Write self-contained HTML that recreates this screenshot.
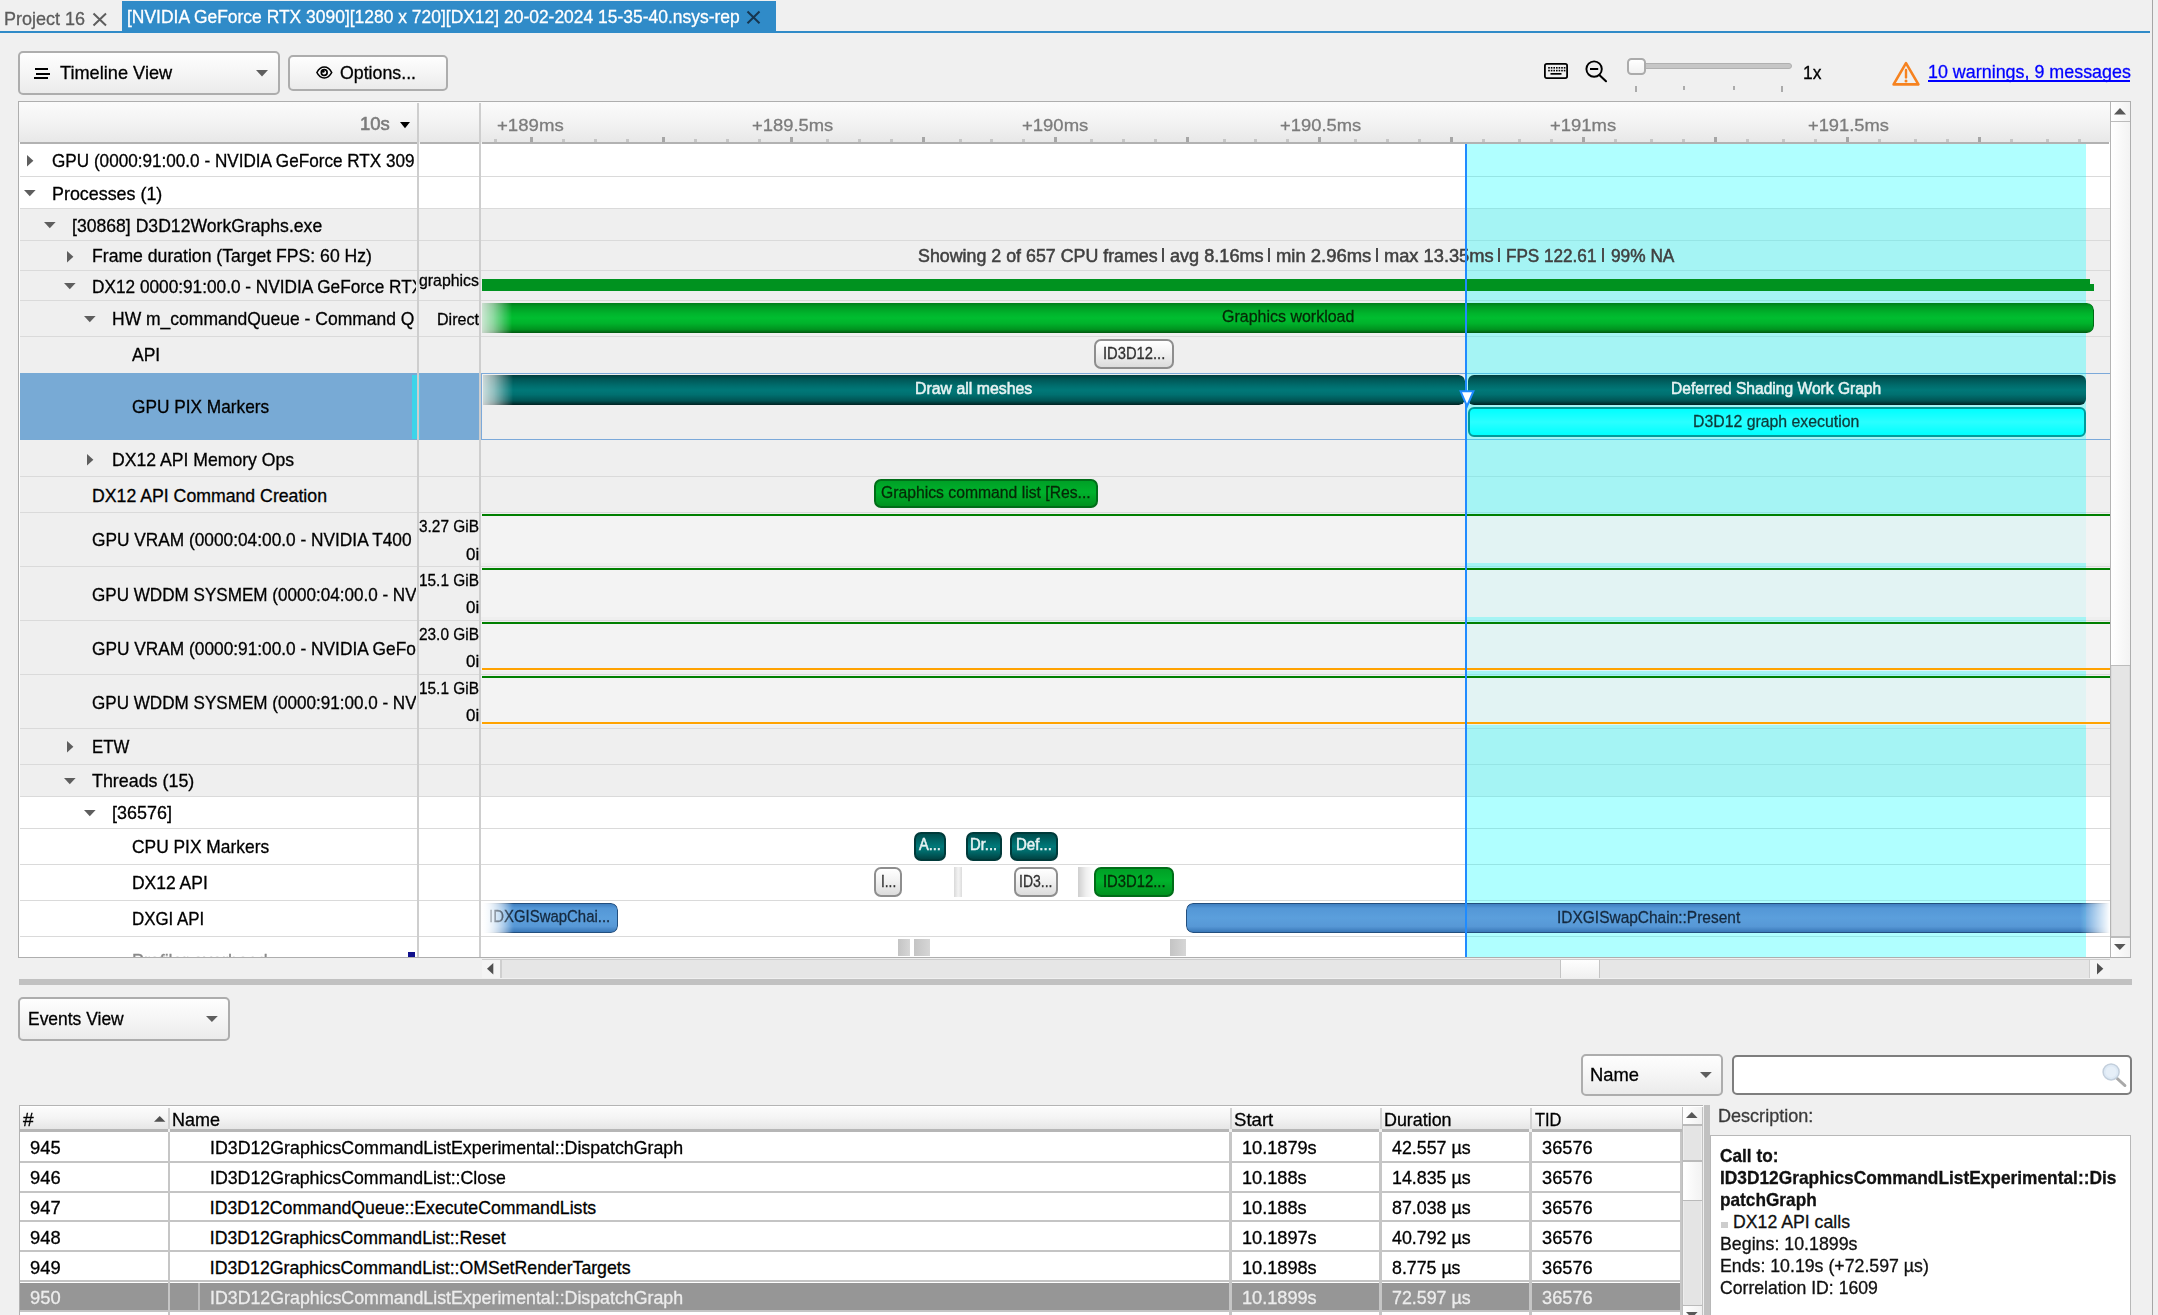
<!DOCTYPE html>
<html><head><meta charset="utf-8"><title>Nsight Systems</title><style>
html,body{margin:0;padding:0;width:2158px;height:1315px;overflow:hidden;background:#f0f0f0;font-family:"Liberation Sans",sans-serif;}
.a{position:absolute;box-sizing:border-box}
.t{position:absolute;line-height:0;white-space:pre;transform-origin:0 50%;-webkit-text-stroke:0.3px currentColor}
.clip{position:absolute;overflow:hidden}
svg{position:absolute;overflow:visible}
</style></head><body>
<div class="a" style="left:2152.00px;top:0.00px;width:1.00px;height:1315.00px;background:#a6a6a6;"></div>
<div class="a" style="left:122.00px;top:1.00px;width:654.00px;height:31.00px;background:#308bc8;"></div>
<div class="a" style="left:0.00px;top:31.00px;width:2150.00px;height:2.00px;background:#308bc8;"></div>
<div class="t" style="left:4.40px;top:19.30px;font-size:17.90px;color:#5c5c5c;transform:scaleX(1.0067);">Project 16</div>
<svg style="left:93px;top:13px" width="14" height="13"><path d="M0.5 0.5 L13 12.5 M13 0.5 L0.5 12.5" stroke="#5e5e5e" stroke-width="2" fill="none"/></svg>
<div class="t" style="left:126.70px;top:17.29px;font-size:18.20px;color:#fff;transform:scaleX(0.9594);">[NVIDIA GeForce RTX 3090][1280 x 720][DX12] 20-02-2024 15-35-40.nsys-rep</div>
<svg style="left:747.4px;top:11px" width="13" height="13"><path d="M0.5 0.5 L12.5 12.3 M12.5 0.5 L0.5 12.3" stroke="#173650" stroke-width="2" fill="none"/></svg>
<div class="a" style="left:18.30px;top:51.30px;width:261.30px;height:43.30px;background:none;border:2px solid #adadad;border-radius:5px;background:linear-gradient(#fefefe,#f6f6f6 45%,#ebebeb);"></div>
<div class="a" style="left:34.60px;top:68.00px;width:13.70px;height:2.00px;background:#000;"></div>
<div class="a" style="left:36.10px;top:72.80px;width:13.70px;height:2.00px;background:#000;"></div>
<div class="a" style="left:34.20px;top:77.20px;width:13.70px;height:2.00px;background:#000;"></div>
<div class="t" style="left:59.90px;top:73.46px;font-size:18.60px;color:#000;transform:scaleX(0.9780);">Timeline View</div>
<svg style="left:256px;top:69.7px" width="12" height="7"><path d="M0 0 L12 0 L6 6.4 Z" fill="#5e5e5e"/></svg>
<div class="a" style="left:288.20px;top:55.20px;width:159.70px;height:35.80px;background:none;border:2px solid #adadad;border-radius:5px;background:linear-gradient(#fefefe,#f6f6f6 45%,#ebebeb);"></div>
<svg style="left:315.7px;top:66px" width="17" height="13" viewBox="0 0 17 13"><path d="M0.9 6.5 C3 2.4 6 1 8.3 1 C10.6 1 13.6 2.4 15.7 6.5 C13.6 10.6 10.6 12 8.3 12 C6 12 3 10.6 0.9 6.5 Z" fill="none" stroke="#000" stroke-width="1.6"/><circle cx="8.2" cy="6.5" r="2.9" fill="none" stroke="#000" stroke-width="1.7"/><circle cx="7.1" cy="5.2" r="1.5" fill="#000"/></svg>
<div class="t" style="left:340.20px;top:73.10px;font-size:17.90px;color:#000;transform:scaleX(0.9925);">Options...</div>
<svg style="left:1544px;top:63px" width="24" height="16" viewBox="0 0 24 16"><rect x="0.9" y="0.9" width="22.2" height="14.2" rx="1.8" fill="none" stroke="#000" stroke-width="1.8"/><rect x="4.2" y="4.0" width="1.6" height="1.6" fill="#000"/><rect x="6.8" y="4.0" width="1.6" height="1.6" fill="#000"/><rect x="9.4" y="4.0" width="1.6" height="1.6" fill="#000"/><rect x="12.0" y="4.0" width="1.6" height="1.6" fill="#000"/><rect x="14.6" y="4.0" width="1.6" height="1.6" fill="#000"/><rect x="17.2" y="4.0" width="1.6" height="1.6" fill="#000"/><rect x="19.8" y="4.0" width="1.6" height="1.6" fill="#000"/><rect x="4.2" y="6.8" width="1.6" height="1.6" fill="#000"/><rect x="6.8" y="6.8" width="1.6" height="1.6" fill="#000"/><rect x="9.4" y="6.8" width="1.6" height="1.6" fill="#000"/><rect x="12.0" y="6.8" width="1.6" height="1.6" fill="#000"/><rect x="14.6" y="6.8" width="1.6" height="1.6" fill="#000"/><rect x="17.2" y="6.8" width="1.6" height="1.6" fill="#000"/><rect x="19.8" y="6.8" width="1.6" height="1.6" fill="#000"/><rect x="6.5" y="10" width="11" height="1.7" fill="#000"/></svg>
<svg style="left:1584px;top:59px" width="24" height="24" viewBox="0 0 24 24"><circle cx="10.1" cy="10.1" r="7.7" fill="none" stroke="#000" stroke-width="1.9"/><path d="M6 10 H14.2" stroke="#000" stroke-width="2"/><path d="M15.6 16.2 L22 22.2" stroke="#000" stroke-width="2.1" stroke-linecap="round"/></svg>
<div class="a" style="left:1640.00px;top:63.20px;width:151.80px;height:5.60px;background:#c6c6c6;border:1px solid #b0b0b0;border-radius:3px;"></div>
<div class="a" style="left:1627.40px;top:57.60px;width:18.60px;height:17.20px;background:none;border:2px solid #ababab;border-radius:4.5px;background:linear-gradient(#ffffff,#f1f1f1);"></div>
<div class="a" style="left:1634.70px;top:86.20px;width:2.00px;height:6.00px;background:#ababab;"></div>
<div class="a" style="left:1683.20px;top:86.20px;width:2.00px;height:3.60px;background:#ababab;"></div>
<div class="a" style="left:1733.20px;top:86.20px;width:2.00px;height:3.60px;background:#ababab;"></div>
<div class="a" style="left:1781.10px;top:86.20px;width:2.00px;height:6.00px;background:#ababab;"></div>
<div class="t" style="left:1803.30px;top:73.46px;font-size:18.60px;color:#000;transform:scaleX(0.9368);">1x</div>
<svg style="left:1890px;top:59px" width="32" height="29" viewBox="0 0 32 29"><path d="M16 4.2 L28.4 25.4 H3.6 Z" fill="none" stroke="#f6821f" stroke-width="2.6" stroke-linejoin="round"/><path d="M16 11 V18.4" stroke="#f6821f" stroke-width="2.4" stroke-linecap="round"/><circle cx="16" cy="22" r="1.5" fill="#f6821f"/></svg>
<div class="t" style="left:1927.80px;top:72.06px;font-size:18.60px;color:#0000ff;transform:scaleX(0.9623);">10 warnings, 9 messages</div>
<div class="a" style="left:1928.30px;top:80.30px;width:201.70px;height:1.50px;background:#0000ff;"></div>
<div class="a" style="left:18.00px;top:101.00px;width:2113.00px;height:856.50px;background:#fff;border:1px solid #aeaeae;"></div>
<div class="a" style="left:19.00px;top:102.00px;width:2091.00px;height:40.00px;background:linear-gradient(#fbfbfb,#f3f3f3 50%,#e8e8e8);"></div>
<div class="a" style="left:20.00px;top:142.00px;width:2089.00px;height:2.20px;background:#b2b2b2;"></div>
<div class="a" style="left:19.50px;top:209.00px;width:2090.50px;height:31.00px;background:#efefef;"></div>
<div class="a" style="left:19.50px;top:241.00px;width:2090.50px;height:29.00px;background:#efefef;"></div>
<div class="a" style="left:19.50px;top:271.00px;width:2090.50px;height:29.00px;background:#efefef;"></div>
<div class="a" style="left:19.50px;top:301.00px;width:2090.50px;height:35.00px;background:#efefef;"></div>
<div class="a" style="left:19.50px;top:337.00px;width:2090.50px;height:36.00px;background:#efefef;"></div>
<div class="a" style="left:19.50px;top:373.00px;width:461.50px;height:67.00px;background:#78aad5;"></div>
<div class="a" style="left:481.00px;top:373.00px;width:1629.00px;height:67.00px;background:#efefef;border:1px solid #7ba9da;border-right:none;"></div>
<div class="a" style="left:19.50px;top:440.00px;width:2090.50px;height:36.00px;background:#efefef;"></div>
<div class="a" style="left:19.50px;top:477.00px;width:2090.50px;height:35.00px;background:#efefef;"></div>
<div class="a" style="left:19.50px;top:513.00px;width:2090.50px;height:53.00px;background:#efefef;"></div>
<div class="a" style="left:19.50px;top:567.00px;width:2090.50px;height:53.00px;background:#efefef;"></div>
<div class="a" style="left:19.50px;top:621.00px;width:2090.50px;height:53.00px;background:#efefef;"></div>
<div class="a" style="left:19.50px;top:675.00px;width:2090.50px;height:53.00px;background:#efefef;"></div>
<div class="a" style="left:19.50px;top:729.00px;width:2090.50px;height:35.00px;background:#efefef;"></div>
<div class="a" style="left:19.50px;top:765.00px;width:2090.50px;height:31.00px;background:#efefef;"></div>
<div class="a" style="left:19.50px;top:176.00px;width:2090.50px;height:1.00px;background:#dadada;"></div>
<div class="a" style="left:19.50px;top:208.00px;width:2090.50px;height:1.00px;background:#dadada;"></div>
<div class="a" style="left:19.50px;top:240.00px;width:2090.50px;height:1.00px;background:#dadada;"></div>
<div class="a" style="left:19.50px;top:270.00px;width:2090.50px;height:1.00px;background:#dadada;"></div>
<div class="a" style="left:19.50px;top:300.00px;width:2090.50px;height:1.00px;background:#dadada;"></div>
<div class="a" style="left:19.50px;top:336.00px;width:2090.50px;height:1.00px;background:#dadada;"></div>
<div class="a" style="left:19.50px;top:476.00px;width:2090.50px;height:1.00px;background:#dadada;"></div>
<div class="a" style="left:19.50px;top:512.00px;width:2090.50px;height:1.00px;background:#dadada;"></div>
<div class="a" style="left:19.50px;top:566.00px;width:2090.50px;height:1.00px;background:#dadada;"></div>
<div class="a" style="left:19.50px;top:620.00px;width:2090.50px;height:1.00px;background:#dadada;"></div>
<div class="a" style="left:19.50px;top:674.00px;width:2090.50px;height:1.00px;background:#dadada;"></div>
<div class="a" style="left:19.50px;top:728.00px;width:2090.50px;height:1.00px;background:#dadada;"></div>
<div class="a" style="left:19.50px;top:764.00px;width:2090.50px;height:1.00px;background:#dadada;"></div>
<div class="a" style="left:19.50px;top:796.00px;width:2090.50px;height:1.00px;background:#dadada;"></div>
<div class="a" style="left:19.50px;top:828.00px;width:2090.50px;height:1.00px;background:#dadada;"></div>
<div class="a" style="left:19.50px;top:864.00px;width:2090.50px;height:1.00px;background:#dadada;"></div>
<div class="a" style="left:19.50px;top:900.00px;width:2090.50px;height:1.00px;background:#dadada;"></div>
<div class="a" style="left:19.50px;top:936.00px;width:2090.50px;height:1.00px;background:#dadada;"></div>
<div class="a" style="left:481.00px;top:514.00px;width:1629.00px;height:49.00px;background:#f3f3f3;"></div>
<div class="a" style="left:481.00px;top:568.00px;width:1629.00px;height:49.00px;background:#f3f3f3;"></div>
<div class="a" style="left:481.00px;top:622.00px;width:1629.00px;height:49.00px;background:#f3f3f3;"></div>
<div class="a" style="left:481.00px;top:676.00px;width:1629.00px;height:49.00px;background:#f3f3f3;"></div>
<div class="a" style="left:1467.00px;top:144.00px;width:619.00px;height:813.00px;background:rgba(0,255,255,0.31);"></div>
<div class="a" style="left:1467.00px;top:516.00px;width:619.00px;height:46.50px;background:#e2f3f3;"></div>
<div class="a" style="left:481.50px;top:514.00px;width:1628.50px;height:2.00px;background:#007f00;"></div>
<div class="a" style="left:1467.00px;top:570.00px;width:619.00px;height:46.50px;background:#e2f3f3;"></div>
<div class="a" style="left:481.50px;top:568.00px;width:1628.50px;height:2.00px;background:#007f00;"></div>
<div class="a" style="left:1467.00px;top:624.00px;width:619.00px;height:46.50px;background:#e2f3f3;"></div>
<div class="a" style="left:481.50px;top:622.00px;width:1628.50px;height:2.00px;background:#007f00;"></div>
<div class="a" style="left:1467.00px;top:678.00px;width:619.00px;height:46.50px;background:#e2f3f3;"></div>
<div class="a" style="left:481.50px;top:676.00px;width:1628.50px;height:2.00px;background:#007f00;"></div>
<div class="a" style="left:481.50px;top:668.00px;width:1628.50px;height:2.00px;background:#ffa200;"></div>
<div class="a" style="left:481.50px;top:722.00px;width:1628.50px;height:2.00px;background:#ffa200;"></div>
<div class="a" style="left:417.00px;top:103.00px;width:2.00px;height:854.00px;background:#cecece;"></div>
<div class="a" style="left:479.00px;top:103.00px;width:2.00px;height:854.00px;background:#cecece;"></div>
<div class="a" style="left:412.00px;top:375.00px;width:5.00px;height:63.50px;background:#3dd4e9;"></div>
<div class="a" style="left:419.00px;top:375.00px;width:1.00px;height:63.50px;background:#59c7e6;"></div>
<div class="a" style="left:2110.00px;top:102.00px;width:1.00px;height:855.00px;background:#b4b4b4;"></div>
<div class="a" style="left:2111.00px;top:102.00px;width:19.00px;height:855.00px;background:#e5e5e5;border-left:1px solid #dcdcdc;border-right:1px solid #dcdcdc;"></div>
<div class="a" style="left:2111.00px;top:102.00px;width:19.00px;height:19.00px;background:linear-gradient(to right,#ffffff,#f2f2f2);"></div>
<div class="a" style="left:2111.00px;top:120.50px;width:19.00px;height:1.50px;background:#bcbcbc;"></div>
<div class="a" style="left:2111.00px;top:122.00px;width:19.00px;height:542.50px;background:linear-gradient(to right,#ffffff,#f3f3f3);"></div>
<div class="a" style="left:2111.00px;top:664.50px;width:19.00px;height:1.50px;background:#bcbcbc;"></div>
<div class="a" style="left:2111.00px;top:937.50px;width:19.00px;height:19.50px;background:linear-gradient(to right,#ffffff,#f2f2f2);"></div>
<svg style="left:2114px;top:108px" width="12" height="7"><path d="M0 6.4 L6 0 L12 6.4 Z" fill="#585858"/></svg>
<svg style="left:2114.1px;top:944px" width="12" height="7"><path d="M0 0 L11.6 0 L5.8 6 Z" fill="#585858"/></svg>
<div class="a" style="left:2111.00px;top:936.00px;width:19.00px;height:1.80px;background:#bcbcbc;"></div>
<div class="a" style="left:494.00px;top:139.00px;width:3.00px;height:3.00px;background:#c6c6c6;"></div>
<div class="a" style="left:562.00px;top:139.00px;width:3.00px;height:3.00px;background:#c6c6c6;"></div>
<div class="a" style="left:594.00px;top:139.00px;width:3.00px;height:3.00px;background:#c6c6c6;"></div>
<div class="a" style="left:626.00px;top:139.00px;width:3.00px;height:3.00px;background:#c6c6c6;"></div>
<div class="a" style="left:694.00px;top:139.00px;width:3.00px;height:3.00px;background:#c6c6c6;"></div>
<div class="a" style="left:726.00px;top:139.00px;width:3.00px;height:3.00px;background:#c6c6c6;"></div>
<div class="a" style="left:758.00px;top:139.00px;width:3.00px;height:3.00px;background:#c6c6c6;"></div>
<div class="a" style="left:826.00px;top:139.00px;width:3.00px;height:3.00px;background:#c6c6c6;"></div>
<div class="a" style="left:858.00px;top:139.00px;width:3.00px;height:3.00px;background:#c6c6c6;"></div>
<div class="a" style="left:890.00px;top:139.00px;width:3.00px;height:3.00px;background:#c6c6c6;"></div>
<div class="a" style="left:959.00px;top:139.00px;width:3.00px;height:3.00px;background:#c6c6c6;"></div>
<div class="a" style="left:990.00px;top:139.00px;width:3.00px;height:3.00px;background:#c6c6c6;"></div>
<div class="a" style="left:1022.00px;top:139.00px;width:3.00px;height:3.00px;background:#c6c6c6;"></div>
<div class="a" style="left:1090.00px;top:139.00px;width:3.00px;height:3.00px;background:#c6c6c6;"></div>
<div class="a" style="left:1122.00px;top:139.00px;width:3.00px;height:3.00px;background:#c6c6c6;"></div>
<div class="a" style="left:1154.00px;top:139.00px;width:3.00px;height:3.00px;background:#c6c6c6;"></div>
<div class="a" style="left:1223.00px;top:139.00px;width:3.00px;height:3.00px;background:#c6c6c6;"></div>
<div class="a" style="left:1254.00px;top:139.00px;width:3.00px;height:3.00px;background:#c6c6c6;"></div>
<div class="a" style="left:1286.00px;top:139.00px;width:3.00px;height:3.00px;background:#c6c6c6;"></div>
<div class="a" style="left:1354.00px;top:139.00px;width:3.00px;height:3.00px;background:#c6c6c6;"></div>
<div class="a" style="left:1386.00px;top:139.00px;width:3.00px;height:3.00px;background:#c6c6c6;"></div>
<div class="a" style="left:1418.00px;top:139.00px;width:3.00px;height:3.00px;background:#c6c6c6;"></div>
<div class="a" style="left:1482.00px;top:139.00px;width:3.00px;height:3.00px;background:#c6c6c6;"></div>
<div class="a" style="left:1518.00px;top:139.00px;width:3.00px;height:3.00px;background:#c6c6c6;"></div>
<div class="a" style="left:1550.00px;top:139.00px;width:3.00px;height:3.00px;background:#c6c6c6;"></div>
<div class="a" style="left:1614.00px;top:139.00px;width:3.00px;height:3.00px;background:#c6c6c6;"></div>
<div class="a" style="left:1650.00px;top:139.00px;width:3.00px;height:3.00px;background:#c6c6c6;"></div>
<div class="a" style="left:1682.00px;top:139.00px;width:3.00px;height:3.00px;background:#c6c6c6;"></div>
<div class="a" style="left:1746.00px;top:139.00px;width:3.00px;height:3.00px;background:#c6c6c6;"></div>
<div class="a" style="left:1782.00px;top:139.00px;width:3.00px;height:3.00px;background:#c6c6c6;"></div>
<div class="a" style="left:1814.00px;top:139.00px;width:3.00px;height:3.00px;background:#c6c6c6;"></div>
<div class="a" style="left:1878.00px;top:139.00px;width:3.00px;height:3.00px;background:#c6c6c6;"></div>
<div class="a" style="left:1914.00px;top:139.00px;width:3.00px;height:3.00px;background:#c6c6c6;"></div>
<div class="a" style="left:1946.00px;top:139.00px;width:3.00px;height:3.00px;background:#c6c6c6;"></div>
<div class="a" style="left:2010.00px;top:139.00px;width:3.00px;height:3.00px;background:#c6c6c6;"></div>
<div class="a" style="left:2046.00px;top:139.00px;width:3.00px;height:3.00px;background:#c6c6c6;"></div>
<div class="a" style="left:2078.00px;top:139.00px;width:3.00px;height:3.00px;background:#c6c6c6;"></div>
<div class="a" style="left:530.00px;top:137.00px;width:3.00px;height:5.00px;background:#a6a6a6;"></div>
<div class="a" style="left:662.00px;top:137.00px;width:3.00px;height:5.00px;background:#a6a6a6;"></div>
<div class="a" style="left:790.00px;top:137.00px;width:3.00px;height:5.00px;background:#a6a6a6;"></div>
<div class="a" style="left:922.00px;top:137.00px;width:3.00px;height:5.00px;background:#a6a6a6;"></div>
<div class="a" style="left:1054.00px;top:137.00px;width:3.00px;height:5.00px;background:#a6a6a6;"></div>
<div class="a" style="left:1186.00px;top:137.00px;width:3.00px;height:5.00px;background:#a6a6a6;"></div>
<div class="a" style="left:1318.00px;top:137.00px;width:3.00px;height:5.00px;background:#a6a6a6;"></div>
<div class="a" style="left:1450.00px;top:137.00px;width:3.00px;height:5.00px;background:#a6a6a6;"></div>
<div class="a" style="left:1582.00px;top:137.00px;width:3.00px;height:5.00px;background:#a6a6a6;"></div>
<div class="a" style="left:1714.00px;top:137.00px;width:3.00px;height:5.00px;background:#a6a6a6;"></div>
<div class="a" style="left:1846.00px;top:137.00px;width:3.00px;height:5.00px;background:#a6a6a6;"></div>
<div class="a" style="left:1978.00px;top:137.00px;width:3.00px;height:5.00px;background:#a6a6a6;"></div>
<div class="t" style="left:497.30px;top:124.97px;font-size:17.40px;color:#7c7c7c;transform:scaleX(1.0696);">+189ms</div>
<div class="t" style="left:751.50px;top:124.97px;font-size:17.40px;color:#7c7c7c;transform:scaleX(1.0565);">+189.5ms</div>
<div class="t" style="left:1021.70px;top:124.97px;font-size:17.40px;color:#7c7c7c;transform:scaleX(1.0632);">+190ms</div>
<div class="t" style="left:1279.50px;top:124.97px;font-size:17.40px;color:#7c7c7c;transform:scaleX(1.0565);">+190.5ms</div>
<div class="t" style="left:1549.80px;top:124.97px;font-size:17.40px;color:#7c7c7c;transform:scaleX(1.0616);">+191ms</div>
<div class="t" style="left:1807.90px;top:124.97px;font-size:17.40px;color:#7c7c7c;transform:scaleX(1.0526);">+191.5ms</div>
<div class="t" style="left:360.30px;top:123.79px;font-size:18.20px;color:#7c7c7c;transform:scaleX(1.0161);-webkit-text-stroke:0.6px #7c7c7c;">10s</div>
<div class="a" style="left:419.00px;top:142.00px;width:1.40px;height:2.20px;background:#f2f2f2;"></div>
<div class="a" style="left:481.00px;top:142.00px;width:1.20px;height:2.20px;background:#f2f2f2;"></div>
<svg style="left:400.4px;top:122.3px" width="10" height="7"><path d="M0 0 L10 0 L5 6.3 Z" fill="#000"/></svg>
<div class="clip" style="left:19.5px;top:144px;width:396px;height:813px">
<div class="t" style="left:32.60px;top:17.27px;font-size:17.70px;color:#000;transform:scaleX(0.9688);">GPU (0000:91:00.0 - NVIDIA GeForce RTX 309</div>
<svg style="left:7.3px;top:11.1px" width="7" height="12"><path d="M0 0 L6.4 5.8 L0 11.6 Z" fill="#5e5e5e"/></svg>
<div class="t" style="left:32.60px;top:49.57px;font-size:17.70px;color:#000;transform:scaleX(1.0109);">Processes (1)</div>
<svg style="left:4.5px;top:46.1px" width="12" height="7"><path d="M0 0 L11.6 0 L5.8 6.2 Z" fill="#5e5e5e"/></svg>
<div class="t" style="left:52.00px;top:81.87px;font-size:17.70px;color:#000;transform:scaleX(0.9953);">[30868] D3D12WorkGraphs.exe</div>
<svg style="left:24.4px;top:78.3px" width="12" height="7"><path d="M0 0 L11.6 0 L5.8 6.2 Z" fill="#5e5e5e"/></svg>
<div class="t" style="left:72.50px;top:112.27px;font-size:17.70px;color:#000;transform:scaleX(0.9959);">Frame duration (Target FPS: 60 Hz)</div>
<svg style="left:47.7px;top:106.6px" width="7" height="12"><path d="M0 0 L6.4 5.8 L0 11.6 Z" fill="#5e5e5e"/></svg>
<div class="t" style="left:72.50px;top:142.67px;font-size:17.70px;color:#000;transform:scaleX(0.9745);">DX12 0000:91:00.0 - NVIDIA GeForce RTX 3090</div>
<svg style="left:44.5px;top:139.4px" width="12" height="7"><path d="M0 0 L11.6 0 L5.8 6.2 Z" fill="#5e5e5e"/></svg>
<div class="t" style="left:92.50px;top:175.37px;font-size:17.70px;color:#000;transform:scaleX(0.9895);">HW m_commandQueue - Command Q</div>
<svg style="left:64.8px;top:172.2px" width="12" height="7"><path d="M0 0 L11.6 0 L5.8 6.2 Z" fill="#5e5e5e"/></svg>
<div class="t" style="left:112.40px;top:211.27px;font-size:17.70px;color:#000;transform:scaleX(0.9889);">API</div>
<div class="t" style="left:112.40px;top:263.17px;font-size:17.70px;color:#000;transform:scaleX(0.9755);">GPU PIX Markers</div>
<div class="t" style="left:92.50px;top:315.87px;font-size:17.70px;color:#000;transform:scaleX(0.9959);">DX12 API Memory Ops</div>
<svg style="left:67.3px;top:309.5px" width="7" height="12"><path d="M0 0 L6.4 5.8 L0 11.6 Z" fill="#5e5e5e"/></svg>
<div class="t" style="left:72.50px;top:351.97px;font-size:17.70px;color:#000;">DX12 API Command Creation</div>
<div class="t" style="left:72.50px;top:396.27px;font-size:17.70px;color:#000;transform:scaleX(0.9772);">GPU VRAM (0000:04:00.0 - NVIDIA T400  4GB)</div>
<div class="t" style="left:72.50px;top:450.67px;font-size:17.70px;color:#000;transform:scaleX(0.9654);">GPU WDDM SYSMEM (0000:04:00.0 - NVIDIA T400 4GB)</div>
<div class="t" style="left:72.50px;top:504.57px;font-size:17.70px;color:#000;transform:scaleX(0.9775);">GPU VRAM (0000:91:00.0 - NVIDIA GeForce RTX 3090)</div>
<div class="t" style="left:72.50px;top:558.67px;font-size:17.70px;color:#000;transform:scaleX(0.9654);">GPU WDDM SYSMEM (0000:91:00.0 - NVIDIA GeForce RTX 3090)</div>
<div class="t" style="left:72.50px;top:603.17px;font-size:17.70px;color:#000;transform:scaleX(0.9492);">ETW</div>
<svg style="left:47.7px;top:597.2px" width="7" height="12"><path d="M0 0 L6.4 5.8 L0 11.6 Z" fill="#5e5e5e"/></svg>
<div class="t" style="left:72.50px;top:637.47px;font-size:17.70px;color:#000;transform:scaleX(1.0102);">Threads (15)</div>
<svg style="left:44.5px;top:633.9px" width="12" height="7"><path d="M0 0 L11.6 0 L5.8 6.2 Z" fill="#5e5e5e"/></svg>
<div class="t" style="left:92.50px;top:669.17px;font-size:17.70px;color:#000;transform:scaleX(1.0150);">[36576]</div>
<svg style="left:64.8px;top:665.6px" width="12" height="7"><path d="M0 0 L11.6 0 L5.8 6.2 Z" fill="#5e5e5e"/></svg>
<div class="t" style="left:112.40px;top:703.37px;font-size:17.70px;color:#000;transform:scaleX(0.9824);">CPU PIX Markers</div>
<div class="t" style="left:112.40px;top:739.07px;font-size:17.70px;color:#000;transform:scaleX(0.9882);">DX12 API</div>
<div class="t" style="left:112.40px;top:775.17px;font-size:17.70px;color:#000;transform:scaleX(0.9550);">DXGI API</div>
<div class="t" style="left:112.40px;top:817.17px;font-size:17.70px;color:#8a8a8a;transform:scaleX(1.0067);">Profiler overhead</div>
<div class="a" style="left:388.5px;top:808.0px;width:7px;height:5px;background:#10108c"></div>
</div>
<div class="t" style="left:419.30px;top:280.12px;font-size:16.40px;color:#000;transform:scaleX(0.9669);">graphics</div>
<div class="t" style="left:437.20px;top:319.12px;font-size:16.40px;color:#000;transform:scaleX(0.9810);">Direct</div>
<div class="t" style="left:419.30px;top:525.72px;font-size:16.40px;color:#000;transform:scaleX(0.9391);">3.27 GiB</div>
<div class="t" style="left:419.30px;top:579.72px;font-size:16.40px;color:#000;transform:scaleX(0.9391);">15.1 GiB</div>
<div class="t" style="left:419.30px;top:633.72px;font-size:16.40px;color:#000;transform:scaleX(0.9391);">23.0 GiB</div>
<div class="t" style="left:419.30px;top:687.72px;font-size:16.40px;color:#000;transform:scaleX(0.9391);">15.1 GiB</div>
<div class="t" style="left:466.00px;top:553.52px;font-size:16.40px;color:#000;transform:scaleX(1.0340);">0i</div>
<div class="t" style="left:466.00px;top:607.32px;font-size:16.40px;color:#000;transform:scaleX(1.0340);">0i</div>
<div class="t" style="left:466.00px;top:661.32px;font-size:16.40px;color:#000;transform:scaleX(1.0340);">0i</div>
<div class="t" style="left:466.00px;top:715.32px;font-size:16.40px;color:#000;transform:scaleX(1.0340);">0i</div>
<div class="a" style="left:482.00px;top:279.00px;width:1608.00px;height:6.00px;background:#00921f;"></div>
<div class="a" style="left:482.00px;top:284.00px;width:1612.00px;height:7.00px;background:#00921f;"></div>
<div class="a" style="left:482.00px;top:303.00px;width:1612.00px;height:30.00px;background:linear-gradient(#007d1a 0,#009a24 12%,#00b42c 35%,#00be30 50%,#00b22b 68%,#00931f 88%,#00570f 100%);border-radius:0 7px 7px 0;border-right:1.5px solid #006a17;-webkit-mask-image:linear-gradient(to right,rgba(0,0,0,.15) 0,rgba(0,0,0,.4) 11px,#000 30px);mask-image:linear-gradient(to right,rgba(0,0,0,.15) 0,rgba(0,0,0,.4) 11px,#000 30px);"></div>
<div class="t" style="left:1221.90px;top:316.88px;font-size:16.80px;color:#062806;transform:scaleX(0.9526);">Graphics workload</div>
<div class="t" style="left:918.00px;top:255.50px;font-size:17.60px;color:#404040;transform:scaleX(1.0128);-webkit-text-stroke:0.5px #404040;">Showing 2 of 657 CPU frames</div>
<div class="t" style="left:1169.90px;top:255.50px;font-size:17.60px;color:#404040;transform:scaleX(1.0291);-webkit-text-stroke:0.5px #404040;">avg 8.16ms</div>
<div class="t" style="left:1276.00px;top:255.50px;font-size:17.60px;color:#404040;transform:scaleX(1.0480);-webkit-text-stroke:0.5px #404040;">min 2.96ms</div>
<div class="t" style="left:1383.50px;top:255.50px;font-size:17.60px;color:#404040;transform:scaleX(1.0378);-webkit-text-stroke:0.5px #404040;">max 13.35ms</div>
<div class="t" style="left:1505.90px;top:255.50px;font-size:17.60px;color:#404040;transform:scaleX(0.9729);-webkit-text-stroke:0.5px #404040;">FPS 122.61</div>
<div class="t" style="left:1610.60px;top:255.50px;font-size:17.60px;color:#404040;transform:scaleX(0.9822);-webkit-text-stroke:0.5px #404040;">99% NA</div>
<div class="a" style="left:1162.00px;top:248.30px;width:2.00px;height:14.20px;background:#4c4c4c;"></div>
<div class="a" style="left:1268.00px;top:248.30px;width:2.00px;height:14.20px;background:#4c4c4c;"></div>
<div class="a" style="left:1376.00px;top:248.30px;width:2.00px;height:14.20px;background:#4c4c4c;"></div>
<div class="a" style="left:1498.00px;top:248.30px;width:2.00px;height:14.20px;background:#4c4c4c;"></div>
<div class="a" style="left:1602.00px;top:248.30px;width:2.00px;height:14.20px;background:#4c4c4c;"></div>
<div class="a" style="left:1094.20px;top:339.40px;width:79.80px;height:29.30px;background:none;border:2px solid #8e8e8e;border-radius:7px;background:linear-gradient(#ffffff,#f2f2f2 45%,#dcdcdc);"></div>
<div class="t" style="left:1103.00px;top:353.32px;font-size:16.40px;color:#303030;transform:scaleX(0.8996);">ID3D12...</div>
<div class="a" style="left:482.50px;top:375.00px;width:982.10px;height:30.00px;background:linear-gradient(#003c3c 0,#005656 14%,#006c6c 35%,#007878 50%,#007070 65%,#005454 86%,#002222 100%);border-radius:0 6px 6px 0;-webkit-mask-image:linear-gradient(to right,rgba(0,0,0,.15) 0,rgba(0,0,0,.4) 11px,#000 30px);mask-image:linear-gradient(to right,rgba(0,0,0,.15) 0,rgba(0,0,0,.4) 11px,#000 30px);"></div>
<div class="a" style="left:1467.60px;top:375.00px;width:618.40px;height:30.00px;background:linear-gradient(#003c3c 0,#005656 14%,#006c6c 35%,#007878 50%,#007070 65%,#005454 86%,#002222 100%);border-radius:6px;"></div>
<div class="t" style="left:915.30px;top:388.58px;font-size:16.80px;color:#e6f2f2;transform:scaleX(0.9456);-webkit-text-stroke:0.55px #e6f2f2;">Draw all meshes</div>
<div class="t" style="left:1670.70px;top:389.28px;font-size:16.80px;color:#e6f2f2;transform:scaleX(0.9286);-webkit-text-stroke:0.55px #e6f2f2;">Deferred Shading Work Graph</div>
<div class="a" style="left:1467.60px;top:407.30px;width:618.40px;height:29.70px;background:linear-gradient(#00ffff,#2affff 50%,#00ffff);border:2px solid #009b9b;border-radius:6px;"></div>
<div class="t" style="left:1692.80px;top:421.58px;font-size:16.80px;color:#0d3a3a;transform:scaleX(0.9431);">D3D12 graph execution</div>
<div class="a" style="left:874.40px;top:479.40px;width:223.30px;height:29.10px;background:linear-gradient(#00a026,#00b22c 45%,#00a828 60%,#00921f);border:2px solid #006d18;border-radius:7px;"></div>
<div class="t" style="left:881.30px;top:492.68px;font-size:16.80px;color:#062806;transform:scaleX(0.9369);">Graphics command list [Res...</div>
<div class="a" style="left:914.10px;top:831.60px;width:31.80px;height:29.20px;background:none;border-radius:7px;border:2px solid #003a3a;background:linear-gradient(#004e4e,#006c6c 35%,#007878 50%,#006a6a 70%,#004444);"></div>
<div class="t" style="left:919.00px;top:844.98px;font-size:16.80px;color:#e6f2f2;transform:scaleX(0.8695);-webkit-text-stroke:0.55px #e6f2f2;">A...</div>
<div class="a" style="left:966.20px;top:831.60px;width:35.80px;height:29.20px;background:none;border-radius:7px;border:2px solid #003a3a;background:linear-gradient(#004e4e,#006c6c 35%,#007878 50%,#006a6a 70%,#004444);"></div>
<div class="t" style="left:970.40px;top:844.98px;font-size:16.80px;color:#e6f2f2;transform:scaleX(0.8837);-webkit-text-stroke:0.55px #e6f2f2;">Dr...</div>
<div class="a" style="left:1010.20px;top:831.60px;width:47.50px;height:29.20px;background:none;border-radius:7px;border:2px solid #003a3a;background:linear-gradient(#004e4e,#006c6c 35%,#007878 50%,#006a6a 70%,#004444);"></div>
<div class="t" style="left:1015.70px;top:844.98px;font-size:16.80px;color:#e6f2f2;transform:scaleX(0.8951);-webkit-text-stroke:0.55px #e6f2f2;">Def...</div>
<div class="a" style="left:874.40px;top:867.40px;width:27.50px;height:29.50px;background:none;border:2px solid #8e8e8e;border-radius:7px;background:linear-gradient(#ffffff,#f2f2f2 45%,#dcdcdc);"></div>
<div class="t" style="left:880.60px;top:881.22px;font-size:16.40px;color:#303030;transform:scaleX(0.8343);">I...</div>
<div class="a" style="left:953.80px;top:867.40px;width:8.00px;height:29.50px;background:linear-gradient(to right,#d9d9d9,#efefef 45%,#f2f2f2 60%,#dcdcdc);"></div>
<div class="a" style="left:1014.20px;top:867.40px;width:43.50px;height:29.50px;background:none;border:2px solid #8e8e8e;border-radius:7px;background:linear-gradient(#ffffff,#f2f2f2 45%,#dcdcdc);"></div>
<div class="t" style="left:1019.10px;top:881.22px;font-size:16.40px;color:#303030;transform:scaleX(0.8552);">ID3...</div>
<div class="a" style="left:1078.00px;top:867.40px;width:16.30px;height:29.50px;background:linear-gradient(to right,#cfcfcf,#efefef 50%,#ffffff);"></div>
<div class="a" style="left:1094.30px;top:867.40px;width:79.50px;height:29.50px;background:linear-gradient(#00a026,#00b22c 45%,#00a828 60%,#00921f);border:2px solid #006d18;border-radius:7px;"></div>
<div class="t" style="left:1102.50px;top:881.22px;font-size:16.40px;color:#062806;transform:scaleX(0.9040);">ID3D12...</div>
<div class="a" style="left:482.00px;top:903.20px;width:136.00px;height:29.60px;background:linear-gradient(#3f7fc0 0,#5497d6 15%,#5b9fdc 50%,#5798d6 80%,#3a78b8 100%);border:1.6px solid #234f7e;border-left:none;border-radius:0 7px 7px 0;-webkit-mask-image:linear-gradient(to right,rgba(0,0,0,0) 0,#000 32px);mask-image:linear-gradient(to right,rgba(0,0,0,0) 0,#000 32px);"></div>
<div class="t" style="left:489.30px;top:916.78px;font-size:16.80px;color:#15293f;transform:scaleX(0.8901);">IDXGISwapChai...</div>
<div class="a" style="left:482.00px;top:903.20px;width:30.00px;height:29.60px;background:linear-gradient(to right,rgba(255,255,255,.9),rgba(255,255,255,0));"></div>
<div class="a" style="left:1186.40px;top:903.20px;width:923.60px;height:29.60px;background:linear-gradient(#3f7fc0 0,#5497d6 15%,#5b9fdc 50%,#5798d6 80%,#3a78b8 100%);border:1.6px solid #234f7e;border-right:none;border-radius:7px 0 0 7px;-webkit-mask-image:linear-gradient(to left,rgba(0,0,0,0) 0,#000 30px);mask-image:linear-gradient(to left,rgba(0,0,0,0) 0,#000 30px);"></div>
<div class="t" style="left:1556.50px;top:917.68px;font-size:16.80px;color:#15293f;transform:scaleX(0.9221);">IDXGISwapChain::Present</div>
<div class="a" style="left:898.10px;top:939.20px;width:11.50px;height:17.30px;background:linear-gradient(to right,#c4c4c4,#d6d6d6);"></div>
<div class="a" style="left:914.10px;top:939.20px;width:15.80px;height:17.30px;background:linear-gradient(to right,#c4c4c4,#d6d6d6);"></div>
<div class="a" style="left:1170.40px;top:939.20px;width:15.40px;height:17.30px;background:linear-gradient(to right,#c4c4c4,#d6d6d6);"></div>
<div class="a" style="left:1465.00px;top:144.00px;width:2.00px;height:813.00px;background:#1f8bff;"></div>
<svg style="left:1458px;top:389px" width="18" height="20" viewBox="0 0 18 20"><path d="M2.6 2.3 L15.4 2.3 L9 17.2 Z" fill="#fff" stroke="#1f8bff" stroke-width="2"/></svg>
<div class="a" style="left:482.00px;top:959.00px;width:1628.00px;height:19.00px;background:#e6e6e6;"></div>
<div class="a" style="left:482.00px;top:959.00px;width:18.00px;height:19.00px;background:#f4f4f4;"></div>
<div class="a" style="left:500.00px;top:959.00px;width:1.50px;height:19.00px;background:#cfcfcf;"></div>
<svg style="left:487.2px;top:963.1px" width="8" height="13"><path d="M6.3 0 L0 5.8 L6.3 11.6 Z" fill="#505050"/></svg>
<div class="a" style="left:1559.80px;top:959.00px;width:40.50px;height:19.00px;background:linear-gradient(#ffffff,#f0f0f0);border-left:1.3px solid #c4c4c4;border-right:1.3px solid #c4c4c4;"></div>
<div class="a" style="left:2090.00px;top:959.00px;width:20.00px;height:19.00px;background:#f4f4f4;"></div>
<div class="a" style="left:2089.00px;top:959.00px;width:1.30px;height:19.00px;background:#cfcfcf;"></div>
<svg style="left:2097px;top:963.1px" width="8" height="13"><path d="M0 0 L6.3 5.8 L0 11.6 Z" fill="#505050"/></svg>
<div class="a" style="left:482.00px;top:959.00px;width:1628.00px;height:1.00px;background:#cdcdcd;"></div>
<div class="a" style="left:18.50px;top:979.00px;width:2113.50px;height:5.80px;background:#c1c1c1;"></div>
<div class="a" style="left:18.30px;top:997.00px;width:211.60px;height:43.50px;background:none;border:2px solid #adadad;border-radius:5px;background:linear-gradient(#fefefe,#f6f6f6 45%,#ebebeb);"></div>
<div class="t" style="left:28.40px;top:1019.39px;font-size:18.20px;color:#000;transform:scaleX(0.9594);">Events View</div>
<svg style="left:206px;top:1015.6px" width="12" height="7"><path d="M0 0 L11.8 0 L5.9 6 Z" fill="#5e5e5e"/></svg>
<div class="a" style="left:1580.80px;top:1054.00px;width:142.50px;height:42.30px;background:none;border:2px solid #adadad;border-radius:5px;background:linear-gradient(#fefefe,#f6f6f6 45%,#ebebeb);"></div>
<div class="t" style="left:1589.80px;top:1075.19px;font-size:18.20px;color:#000;transform:scaleX(1.0100);">Name</div>
<svg style="left:1699.6px;top:1072.3px" width="12" height="7"><path d="M0 0 L11.8 0 L5.9 6 Z" fill="#5e5e5e"/></svg>
<div class="a" style="left:1732.30px;top:1055.00px;width:399.70px;height:39.80px;background:#fff;border:2px solid #7e7e7e;border-radius:5px;"></div>
<svg style="left:2101px;top:1062px" width="26" height="26" viewBox="0 0 26 26"><path d="M15.2 15.6 L24 23.6" stroke="#a9a9a9" stroke-width="2.8" stroke-linecap="round"/><circle cx="10.1" cy="9.9" r="8" fill="#dde9f5" stroke="#c3cfdc" stroke-width="1.5"/><circle cx="10.1" cy="9.9" r="5.5" fill="#e6eff8"/></svg>
<div class="a" style="left:18.50px;top:1105.30px;width:1684.10px;height:209.70px;background:#fff;border-left:1.3px solid #b2b2b2;border-top:1.2px solid #b4b4b4;"></div>
<div class="a" style="left:19.80px;top:1106.80px;width:1662.20px;height:22.70px;background:linear-gradient(#fcfcfc,#f4f4f4 50%,#e6e6e6);"></div>
<div class="a" style="left:19.80px;top:1129.30px;width:1662.20px;height:2.50px;background:#b6b6b6;"></div>
<div class="a" style="left:168.00px;top:1107.50px;width:2.00px;height:21.80px;background:#d2d2d2;"></div>
<div class="a" style="left:167.80px;top:1129.30px;width:2.40px;height:2.50px;background:#f0f0f0;"></div>
<div class="a" style="left:1229.50px;top:1107.50px;width:2.00px;height:21.80px;background:#d2d2d2;"></div>
<div class="a" style="left:1229.30px;top:1129.30px;width:2.40px;height:2.50px;background:#f0f0f0;"></div>
<div class="a" style="left:1379.60px;top:1107.50px;width:2.00px;height:21.80px;background:#d2d2d2;"></div>
<div class="a" style="left:1379.40px;top:1129.30px;width:2.40px;height:2.50px;background:#f0f0f0;"></div>
<div class="a" style="left:1529.50px;top:1107.50px;width:2.00px;height:21.80px;background:#d2d2d2;"></div>
<div class="a" style="left:1529.30px;top:1129.30px;width:2.40px;height:2.50px;background:#f0f0f0;"></div>
<div class="a" style="left:19.80px;top:1283.20px;width:1662.20px;height:26.80px;background:#969696;"></div>
<div class="a" style="left:19.80px;top:1160.50px;width:1662.20px;height:2.00px;background:#c4c4c4;"></div>
<div class="a" style="left:19.80px;top:1190.70px;width:1662.20px;height:2.00px;background:#c4c4c4;"></div>
<div class="a" style="left:19.80px;top:1220.30px;width:1662.20px;height:2.00px;background:#c4c4c4;"></div>
<div class="a" style="left:19.80px;top:1250.10px;width:1662.20px;height:2.00px;background:#c4c4c4;"></div>
<div class="a" style="left:19.80px;top:1280.20px;width:1662.20px;height:2.00px;background:#c4c4c4;"></div>
<div class="a" style="left:19.80px;top:1310.30px;width:1662.20px;height:2.00px;background:#c4c4c4;"></div>
<div class="a" style="left:167.60px;top:1132.00px;width:2.60px;height:183.00px;background:#c6c6c6;"></div>
<div class="a" style="left:1229.10px;top:1132.00px;width:2.60px;height:183.00px;background:#c6c6c6;"></div>
<div class="a" style="left:1379.20px;top:1132.00px;width:2.60px;height:183.00px;background:#c6c6c6;"></div>
<div class="a" style="left:1529.10px;top:1132.00px;width:2.60px;height:183.00px;background:#c6c6c6;"></div>
<div class="a" style="left:1679.60px;top:1132.00px;width:2.60px;height:183.00px;background:#c6c6c6;"></div>
<div class="a" style="left:197.70px;top:1283.20px;width:2.20px;height:26.80px;background:#bcbcbc;"></div>
<div class="t" style="left:22.90px;top:1120.27px;font-size:17.70px;color:#000;transform:scaleX(1.0768);">#</div>
<svg style="left:154.4px;top:1116.2px" width="12" height="6"><path d="M0 5.8 L5.7 0 L11.4 5.8 Z" fill="#505050"/></svg>
<div class="t" style="left:172.10px;top:1120.27px;font-size:17.70px;color:#000;transform:scaleX(1.0172);">Name</div>
<div class="t" style="left:1233.60px;top:1120.27px;font-size:17.70px;color:#000;transform:scaleX(1.0519);">Start</div>
<div class="t" style="left:1384.20px;top:1120.27px;font-size:17.70px;color:#000;transform:scaleX(1.0096);">Duration</div>
<div class="t" style="left:1534.80px;top:1120.27px;font-size:17.70px;color:#000;transform:scaleX(0.9298);">TID</div>
<div class="t" style="left:29.90px;top:1148.17px;font-size:17.70px;color:#000;transform:scaleX(1.0367);">945</div>
<div class="t" style="left:209.80px;top:1148.17px;font-size:17.70px;color:#000;transform:scaleX(1.0047);">ID3D12GraphicsCommandListExperimental::DispatchGraph</div>
<div class="t" style="left:1242.00px;top:1148.17px;font-size:17.70px;color:#000;transform:scaleX(1.0264);">10.1879s</div>
<div class="t" style="left:1392.20px;top:1148.17px;font-size:17.70px;color:#000;transform:scaleX(1.0082);">42.557 µs</div>
<div class="t" style="left:1542.00px;top:1148.17px;font-size:17.70px;color:#000;transform:scaleX(1.0307);">36576</div>
<div class="t" style="left:29.90px;top:1177.97px;font-size:17.70px;color:#000;transform:scaleX(1.0367);">946</div>
<div class="t" style="left:209.80px;top:1177.97px;font-size:17.70px;color:#000;transform:scaleX(1.0033);">ID3D12GraphicsCommandList::Close</div>
<div class="t" style="left:1242.00px;top:1177.97px;font-size:17.70px;color:#000;transform:scaleX(1.0262);">10.188s</div>
<div class="t" style="left:1392.20px;top:1177.97px;font-size:17.70px;color:#000;transform:scaleX(1.0082);">14.835 µs</div>
<div class="t" style="left:1542.00px;top:1177.97px;font-size:17.70px;color:#000;transform:scaleX(1.0307);">36576</div>
<div class="t" style="left:29.90px;top:1207.97px;font-size:17.70px;color:#000;transform:scaleX(1.0367);">947</div>
<div class="t" style="left:209.80px;top:1207.97px;font-size:17.70px;color:#000;">ID3D12CommandQueue::ExecuteCommandLists</div>
<div class="t" style="left:1242.00px;top:1207.97px;font-size:17.70px;color:#000;transform:scaleX(1.0262);">10.188s</div>
<div class="t" style="left:1392.20px;top:1207.97px;font-size:17.70px;color:#000;transform:scaleX(1.0082);">87.038 µs</div>
<div class="t" style="left:1542.00px;top:1207.97px;font-size:17.70px;color:#000;transform:scaleX(1.0307);">36576</div>
<div class="t" style="left:29.90px;top:1238.07px;font-size:17.70px;color:#000;transform:scaleX(1.0367);">948</div>
<div class="t" style="left:209.80px;top:1238.07px;font-size:17.70px;color:#000;">ID3D12GraphicsCommandList::Reset</div>
<div class="t" style="left:1242.00px;top:1238.07px;font-size:17.70px;color:#000;transform:scaleX(1.0264);">10.1897s</div>
<div class="t" style="left:1392.20px;top:1238.07px;font-size:17.70px;color:#000;transform:scaleX(1.0082);">40.792 µs</div>
<div class="t" style="left:1542.00px;top:1238.07px;font-size:17.70px;color:#000;transform:scaleX(1.0307);">36576</div>
<div class="t" style="left:29.90px;top:1267.87px;font-size:17.70px;color:#000;transform:scaleX(1.0367);">949</div>
<div class="t" style="left:209.80px;top:1267.87px;font-size:17.70px;color:#000;">ID3D12GraphicsCommandList::OMSetRenderTargets</div>
<div class="t" style="left:1242.00px;top:1267.87px;font-size:17.70px;color:#000;transform:scaleX(1.0264);">10.1898s</div>
<div class="t" style="left:1392.20px;top:1267.87px;font-size:17.70px;color:#000;transform:scaleX(1.0041);">8.775 µs</div>
<div class="t" style="left:1542.00px;top:1267.87px;font-size:17.70px;color:#000;transform:scaleX(1.0307);">36576</div>
<div class="t" style="left:29.90px;top:1297.97px;font-size:17.70px;color:#ececec;transform:scaleX(1.0367);">950</div>
<div class="t" style="left:209.80px;top:1297.97px;font-size:17.70px;color:#ececec;transform:scaleX(1.0047);">ID3D12GraphicsCommandListExperimental::DispatchGraph</div>
<div class="t" style="left:1242.00px;top:1297.97px;font-size:17.70px;color:#ececec;transform:scaleX(1.0264);">10.1899s</div>
<div class="t" style="left:1392.20px;top:1297.97px;font-size:17.70px;color:#ececec;transform:scaleX(1.0082);">72.597 µs</div>
<div class="t" style="left:1542.00px;top:1297.97px;font-size:17.70px;color:#ececec;transform:scaleX(1.0307);">36576</div>
<div class="a" style="left:1682.00px;top:1106.50px;width:20.60px;height:208.50px;background:#e4e4e4;border-left:1px solid #bdbdbd;border-right:1px solid #c2c2c2;"></div>
<div class="a" style="left:1683.00px;top:1106.50px;width:18.70px;height:17.70px;background:linear-gradient(to right,#ffffff,#f1f1f1);"></div>
<div class="a" style="left:1683.00px;top:1124.20px;width:18.70px;height:1.50px;background:#bababa;"></div>
<div class="a" style="left:1683.00px;top:1125.70px;width:1.00px;height:34.70px;background:#ededed;"></div>
<div class="a" style="left:1700.50px;top:1125.70px;width:1.20px;height:34.70px;background:#ededed;"></div>
<div class="a" style="left:1683.00px;top:1160.40px;width:18.70px;height:1.20px;background:#bababa;"></div>
<div class="a" style="left:1683.00px;top:1161.60px;width:18.70px;height:38.20px;background:linear-gradient(to right,#ffffff,#f2f2f2);"></div>
<div class="a" style="left:1683.00px;top:1199.80px;width:18.70px;height:1.40px;background:#bababa;"></div>
<div class="a" style="left:1683.00px;top:1201.20px;width:1.00px;height:103.30px;background:#ededed;"></div>
<div class="a" style="left:1700.50px;top:1201.20px;width:1.20px;height:103.30px;background:#ededed;"></div>
<div class="a" style="left:1683.00px;top:1304.50px;width:18.70px;height:1.50px;background:#bababa;"></div>
<div class="a" style="left:1683.00px;top:1306.00px;width:18.70px;height:9.00px;background:linear-gradient(to right,#ffffff,#f1f1f1);"></div>
<svg style="left:1686.2px;top:1112px" width="12" height="7"><path d="M0 6 L5.8 0 L11.6 6 Z" fill="#585858"/></svg>
<svg style="left:1686.3px;top:1312px" width="12" height="7"><path d="M0 0 L11.6 0 L5.8 6 Z" fill="#585858"/></svg>
<div class="a" style="left:1704.20px;top:1105.30px;width:5.50px;height:209.70px;background:#c1c1c1;"></div>
<div class="t" style="left:1718.30px;top:1116.37px;font-size:17.70px;color:#3a3a3a;transform:scaleX(1.0204);">Description:</div>
<div class="a" style="left:1710.00px;top:1135.00px;width:421.00px;height:185.00px;background:#fff;border:1.3px solid #b8b8b8;"></div>
<div class="t" style="left:1719.90px;top:1156.47px;font-size:17.70px;color:#111;font-weight:bold;transform:scaleX(0.9760);">Call to:</div>
<div class="t" style="left:1719.90px;top:1178.37px;font-size:17.70px;color:#111;font-weight:bold;transform:scaleX(0.9788);">ID3D12GraphicsCommandListExperimental::Dis</div>
<div class="t" style="left:1719.90px;top:1200.17px;font-size:17.70px;color:#111;font-weight:bold;transform:scaleX(0.9742);">patchGraph</div>
<div class="a" style="left:1721.30px;top:1221.80px;width:6.50px;height:6.10px;background:#cdcdcd;"></div>
<div class="t" style="left:1733.00px;top:1222.27px;font-size:17.70px;color:#111;">DX12 API calls</div>
<div class="t" style="left:1719.90px;top:1244.27px;font-size:17.70px;color:#111;transform:scaleX(1.0058);">Begins: 10.1899s</div>
<div class="t" style="left:1719.90px;top:1266.37px;font-size:17.70px;color:#111;transform:scaleX(1.0023);">Ends: 10.19s (+72.597 µs)</div>
<div class="t" style="left:1719.90px;top:1288.47px;font-size:17.70px;color:#111;transform:scaleX(0.9975);">Correlation ID: 1609</div>
</body></html>
